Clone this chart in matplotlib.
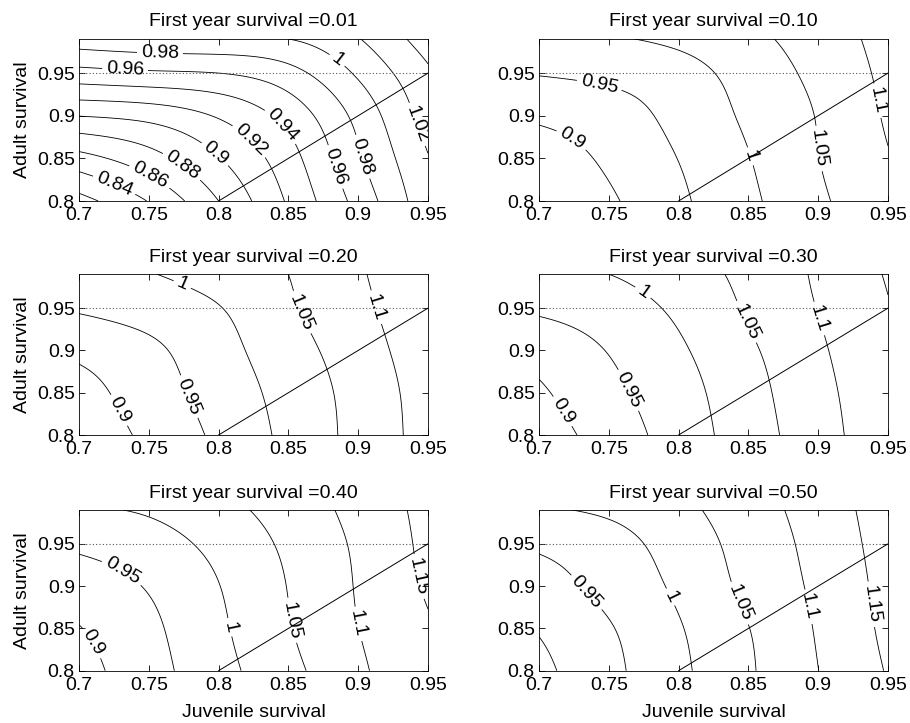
import numpy as np
import matplotlib
matplotlib.use("Agg")
import matplotlib.pyplot as plt

plt.rcParams["font.family"] = ["Liberation Sans", "DejaVu Sans"]

# ---------------- data ----------------
juvenile = [0.70, 0.75, 0.80, 0.85, 0.90, 0.95]          # x grid
adult = [0.80, 0.85, 0.90, 0.95, 0.99]                   # y grid
first_year = [0.01, 0.10, 0.20, 0.30, 0.40, 0.50]

# growth rate (lambda) on the grid, rows = adult survival, cols = juvenile survival
lam_001 = [[0.813, 0.841, 0.880, 0.9225, 0.967, 1.0135],
           [0.853, 0.872, 0.899, 0.932, 0.977, 1.019],
           [0.9005, 0.9066, 0.922, 0.947, 0.986, 1.0285],
           [0.953, 0.957, 0.960, 0.973, 1.003, 1.037],
           [0.991, 0.995, 0.997, 1.000, 1.019, 1.050]]
lam_010 = [[0.850, 0.8925, 0.941, 0.990, 1.041, 1.091],
           [0.872, 0.9086, 0.951, 0.998, 1.049, 1.0975],
           [0.909, 0.928, 0.9645, 1.0083, 1.0527, 1.106],
           [0.953, 0.962, 0.981, 1.0205, 1.063, 1.112],
           [0.992, 0.996, 1.011, 1.038, 1.073, 1.118]]
lam_020 = [[0.865, 0.911, 0.960, 1.0125, 1.0655, 1.119],
           [0.8805, 0.925, 0.9707, 1.0181, 1.068, 1.122],
           [0.912, 0.9394, 0.9823, 1.0288, 1.0773, 1.128],
           [0.956, 0.972, 0.9978, 1.0428, 1.088, 1.135],
           [0.993, 0.998, 1.022, 1.050, 1.094, 1.141]]
lam_030 = [[0.8745, 0.9219, 0.9729, 1.026, 1.0798, 1.134],
           [0.8925, 0.937, 0.9806, 1.032, 1.085, 1.137],
           [0.920, 0.952, 0.9926, 1.0418, 1.0923, 1.144],
           [0.958, 0.975, 1.010, 1.0557, 1.1015, 1.148],
           [0.993, 1.000, 1.029, 1.062, 1.107, 1.154]]
lam_040 = [[0.8814, 0.9313, 0.983, 1.0362, 1.091, 1.1467],
           [0.898, 0.9394, 0.991, 1.0465, 1.0996, 1.146],
           [0.926, 0.9536, 0.9988, 1.0516, 1.1038, 1.156],
           [0.959, 0.978, 1.015, 1.0594, 1.108, 1.162],
           [0.994, 1.006, 1.035, 1.0705, 1.116, 1.1645]]
lam_050 = [[0.8874, 0.9372, 0.9895, 1.0439, 1.0996, 1.1533],
           [0.904, 0.946, 0.996, 1.049, 1.1044, 1.1607],
           [0.930, 0.9646, 1.0094, 1.0615, 1.110, 1.166],
           [0.958, 0.980, 1.023, 1.068, 1.1167, 1.170],
           [0.994, 1.009, 1.038, 1.0764, 1.1233, 1.173]]
lambdas = [lam_001, lam_010, lam_020, lam_030, lam_040, lam_050]

levels_fine = [0.82, 0.84, 0.86, 0.88, 0.90, 0.92, 0.94, 0.96, 0.98, 1.00, 1.02, 1.04]
levels_coarse = [0.90, 0.95, 1.00, 1.05, 1.10, 1.15]
panel_levels = [levels_fine] + [levels_coarse] * 5

x_ticks = [0.7, 0.75, 0.8, 0.85, 0.9, 0.95]
y_ticks = [0.8, 0.85, 0.9, 0.95]
x_range = [0.7, 0.95]
y_range = [0.8, 0.99]
reference_adult = 0.95          # dotted horizontal line
equal_line = [0.8, 0.95]        # juvenile == adult survival line

# ---------------- layout ----------------
label_pos = [
    [(0.758, 0.975), (0.733, 0.955), (0.7246, 0.8164), (0.751, 0.830), (0.776, 0.8458),
     (0.7988, 0.8576), (0.8227, 0.8713), (0.843, 0.885), (0.8837, 0.840), (0.9028, 0.8517),
     (0.8849, 0.965), (0.9375, 0.887)],
    [(0.7424, 0.9298), (0.7222, 0.869), (0.852, 0.8527), (0.8985, 0.8612), (0.9415, 0.9174)],
    [(0.7734, 0.9758), (0.7782, 0.8449), (0.7288, 0.8293), (0.8616, 0.9465), (0.9116, 0.9504)],
    [(0.7734, 0.966), (0.7639, 0.8527), (0.7162, 0.8273), (0.8497, 0.9348), (0.9004, 0.9375)],
    [(0.7293, 0.9121), (0.7067, 0.8301), (0.8063, 0.8508), (0.852, 0.8594), (0.9004, 0.8555),
     (0.9402, 0.9102)],
    [(0.7353, 0.8945), (0.7937, 0.8867), (0.8425, 0.8789), (0.8914, 0.875), (0.936, 0.8781)],
]


# smooth surface through the grid values (natural cubic spline, tensor product),
# only used so the contour routine gets smooth lines between grid nodes
def _spline_matrix(xk, xq):
    xk = np.asarray(xk, float)
    n = len(xk)
    h = np.diff(xk)
    A = np.zeros((n, n))
    B = np.zeros((n, n))
    A[0, 0] = A[-1, -1] = 1.0
    for i in range(1, n - 1):
        A[i, i - 1] = h[i - 1] / 6
        A[i, i] = (h[i - 1] + h[i]) / 3
        A[i, i + 1] = h[i] / 6
        B[i, i - 1] = 1 / h[i - 1]
        B[i, i] = -1 / h[i - 1] - 1 / h[i]
        B[i, i + 1] = 1 / h[i]
    Mop = np.linalg.solve(A, B)            # second derivatives = Mop @ values
    S = np.zeros((len(xq), n))
    for q, x in enumerate(xq):
        i = min(max(np.searchsorted(xk, x) - 1, 0), n - 2)
        t = x - xk[i]
        hi = h[i]
        a = (xk[i + 1] - x) / hi
        b = t / hi
        row = np.zeros(n)
        row[i] += a
        row[i + 1] += b
        row += ((a ** 3 - a) * hi * hi / 6) * Mop[i] + ((b ** 3 - b) * hi * hi / 6) * Mop[i + 1]
        S[q] = row
    return S


xq = np.linspace(x_range[0], x_range[1], 251)
yq = np.linspace(y_range[0], y_range[1], 191)
Sx = _spline_matrix(juvenile, xq)
Sy = _spline_matrix(adult, yq)
XQ, YQ = np.meshgrid(xq, yq)

W, H = 910, 723
fig = plt.figure(figsize=(W / 100, H / 100), dpi=100)
col_left = [79 / W, 539 / W]
col_w = 349 / W
row_bottom = [(H - 201) / H, (H - 435) / H, (H - 670.7) / H]
row_h = [162 / H, 160.7 / H, 160.7 / H]

FS = 14

for i, s0 in enumerate(first_year):
    r, c = divmod(i, 2)
    ax = fig.add_axes([col_left[c], row_bottom[r], col_w, row_h[r]])
    Z = np.asarray(lambdas[i], dtype=float)
    ZQ = Sy @ Z @ Sx.T

    ax.set_xlim(x_range)
    ax.set_ylim(y_range)

    cs = ax.contour(XQ, YQ, ZQ, levels=panel_levels[i], colors="k", linewidths=0.6)
    ax.clabel(cs, inline=True, fontsize=FS, fmt="%g", manual=label_pos[i], inline_spacing=4)

    ax.axhline(reference_adult, color="#555555", linestyle=(0, (1, 2)), linewidth=0.8)
    ax.plot(equal_line, equal_line, color="k", linewidth=0.7)

    ax.set_xticks(x_ticks)
    ax.set_yticks(y_ticks)
    ax.set_xticklabels(["%g" % v for v in x_ticks])
    ax.set_yticklabels(["%g" % v for v in y_ticks])
    ax.tick_params(direction="in", top=True, right=True, length=4, width=0.6,
                   labelsize=FS)
    ax.tick_params(axis="x", pad=4.5)
    ax.tick_params(axis="y", pad=3)
    for sp in ax.spines.values():
        sp.set_linewidth(0.6)
    ax.set_title("First year survival =%.2f" % s0, fontsize=FS, pad=9)
    if c == 0:
        ax.set_ylabel("Adult survival", fontsize=FS, labelpad=4)
    if r == 2:
        ax.set_xlabel("Juvenile survival", fontsize=FS, labelpad=7)

fig.savefig("out.png", dpi=100)
